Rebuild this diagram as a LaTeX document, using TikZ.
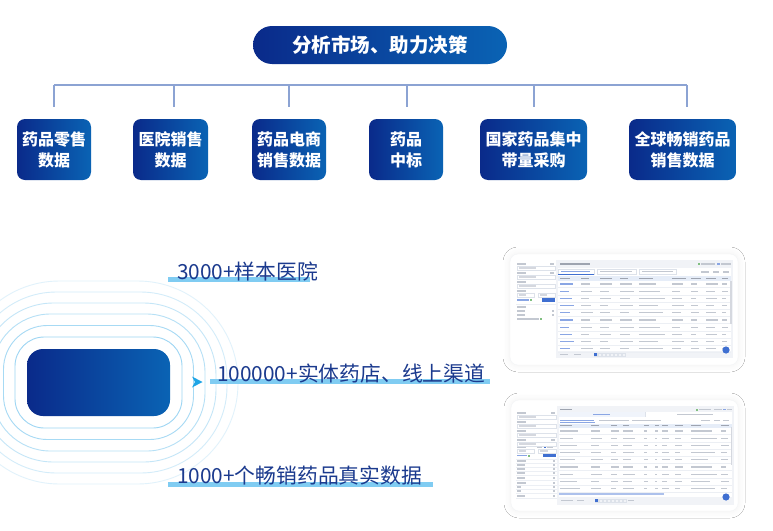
\documentclass[tikz,border=0pt]{standalone}
\usepackage{fontspec}
\newfontfamily\cjk{Noto Sans CJK SC}
\usetikzlibrary{shadows.blur}
\definecolor{navyL}{HTML}{0A2A8A}
\definecolor{navyR}{HTML}{0A63B4}
\definecolor{conncol}{HTML}{8CA3D3}
\definecolor{ringcol}{HTML}{9ED6F3}
\definecolor{barcol}{HTML}{80CCF2}
\definecolor{labcol}{HTML}{1B3A8E}
\definecolor{arrcol}{HTML}{1FA5E6}
\definecolor{cellcol}{HTML}{C3C8D1}
\definecolor{darkcell}{HTML}{9EA4B0}
\definecolor{linkcol}{HTML}{8AA6E4}
\definecolor{headcol}{HTML}{E6EDF8}
\definecolor{sepcol}{HTML}{ECEFF4}
\definecolor{btncol}{HTML}{3F6FD1}
\definecolor{framecol}{HTML}{F1F3F7}
\definecolor{boxcol}{HTML}{DDE2EA}
\newcommand\mytbar[4][cellcol]{\fill[#1] (#2,#3-0.65) rectangle ++(#4,1.3);}
\newcommand\myinput[3]{\draw[boxcol,line width=0.3pt] (#1,#2-2.2) rectangle ++(#3,4.4);\mytbar[cellcol!70]{#1+1.5}{#2}{#3*0.45}}
\begin{document}
\begin{tikzpicture}[x=1pt,y=-1pt,
 grad/.style={left color=navyL,right color=navyR,draw=none},
 pill/.style={grad,rounded corners=19pt,minimum width=254pt,minimum height=38pt,inner sep=0pt,text=white,font=\cjk\bfseries\fontsize{19.5}{22}\selectfont},
 catbox/.style={grad,rounded corners=8pt,minimum height=61pt,inner sep=0pt,align=center,text=white,font=\cjk\bfseries\fontsize{16}{21}\selectfont},
 conn/.style={draw=conncol,line width=1.2pt},
 lab/.style={anchor=base west,inner sep=0pt,text=labcol,font=\cjk\fontsize{20.8}{22}\selectfont},
 corebox/.style={grad,rounded corners=16pt,minimum width=143pt,minimum height=67pt,inner sep=0pt},
 card/.style={fill=white,rounded corners=8pt,blur shadow={shadow xshift=0pt,shadow yshift=0pt,shadow blur radius=7pt,shadow blur steps=10,shadow opacity=6}}
]
\useasboundingbox (0,0) rectangle (773,530);
\fill[white] (0,0) rectangle (773,530);

% ---------- top ----------
\node[pill] (title) at (380,45) {分析市场、助力决策};

\node[catbox,minimum width=74pt]  (b1) at (54,149.5)  {药品零售\\数据};
\node[catbox,minimum width=75pt]  (b2) at (170.5,149.5) {医院销售\\数据};
\node[catbox,minimum width=74pt]  (b3) at (289,149.5) {药品电商\\销售数据};
\node[catbox,minimum width=74pt]  (b4) at (406,149.5) {药品\\中标};
\node[catbox,minimum width=107pt] (b5) at (533.5,149.5) {国家药品集中\\带量采购};
\node[catbox,minimum width=107pt] (b6) at (682.5,149.5) {全球畅销药品\\销售数据};

\foreach \i/\x in {1/54,2/174,3/289,4/407,5/534,6/687}{
  \coordinate (h\i) at (\x,85);
  \coordinate (e\i) at (\x,107);
}
\draw[conn] (h1) -- (h6);
\foreach \i in {1,...,6}{ \draw[conn] (h\i) -- (e\i); }

% ---------- rings ----------
\begin{scope}
\clip (0,0) rectangle (773,530);
\foreach \d/\op in {12/1,23.5/0.9,35/0.75,46/0.6,57/0.45,68/0.3}{
  \pgfmathsetmacro\rr{min(14+1.27*\d,33.5+\d)}
  \draw[ringcol,opacity=\op,line width=0.9pt,rounded corners=\rr pt] (27-\d,349-\d) rectangle (170+\d,416+\d);
}
\end{scope}
\node[corebox] (core) at (98.5,382.5) {};
\fill[arrcol] (192,376.5) -- (202.5,382) -- (192,387.5) -- (195,382) -- cycle;

% ---------- labels ----------
\fill[barcol] (168,277) rectangle (310,282);
\node[lab] (l1) at (177,279) {3000+样本医院};
\fill[barcol] (210,379) rectangle (490,384);
\node[lab] (l2) at (217,381) {100000+实体药店、线上渠道};
\fill[barcol] (168,482) rectangle (433,487);
\node[lab] (l3) at (177,483) {1000+个畅销药品真实数据};

% ---------- screenshot 1 ----------
\begin{scope}[shift={(510,254)}]
\path[card] (0,0) rectangle (228,111);
\draw[sepcol!70,rounded corners=8pt,line width=0.3pt] (0,0) rectangle (228,111);
% sidebar
\foreach \y in {10,19}{\mytbar{7}{\y}{9}\mytbar{40}{\y}{4}}
\foreach \y in {28,37}{\mytbar{7}{\y}{9}}
\foreach \y in {14,23,32}{\myinput{7}{\y}{38}}
\myinput{7}{41}{17}\myinput{28}{41}{17}
\mytbar[linkcol]{7}{46}{12}
\fill[green!50!black!50] (20,45) rectangle ++(2,2);
\fill[btncol] (32,44.3) rectangle (45,48);
\draw[sepcol,line width=0.4pt] (6,50) -- (46,50);
\mytbar{7}{53}{9}\mytbar{7}{57}{8}\mytbar{7}{61}{8}\mytbar{7}{65}{22}
\fill[green!50!black!50] (30,64) rectangle ++(2,2);
\foreach \y in {57,61}{\mytbar{42}{\y}{2}}
% main panel
\fill[framecol] (46,6) rectangle (223,104);
\fill[white] (48,13.5) rectangle (221,97);
\mytbar[darkcell]{50}{10}{30}
\fill[green!50!black!50] (188,9) rectangle ++(2,2);
\mytbar{191}{10}{14}\mytbar[linkcol]{207}{10}{3}\mytbar{211}{10}{10}
\draw[boxcol,line width=0.3pt] (48,15) rectangle (84,20);
\draw[boxcol,line width=0.3pt] (87,15) rectangle (126,20);
\draw[boxcol,line width=0.3pt] (129,15) rectangle (166,20);
\mytbar[linkcol]{51}{17.5}{29}\mytbar{90}{17.5}{32}\mytbar{132}{17.5}{31}
\draw[btncol,line width=0.6pt] (48,20.6) -- (84,20.6);
\mytbar{191}{18}{8}\mytbar{203}{18}{6}\mytbar{213}{18}{6}
\fill[headcol] (48,22) rectangle (221,26.5);
\foreach \cx/\cw in {50/10,71/8,90/12,110/8,129/14,162/14,181/10,196/10,212/6}{\mytbar[darkcell]{\cx}{24.2}{\cw}}
\foreach \r in {0,...,9}{
  \pgfmathsetmacro\yy{30+7.2*\r}
  \draw[sepcol,line width=0.4pt] (48,\yy+3.6) -- (221,\yy+3.6);
  \foreach \cx/\cw [count=\i] in {50/14,71/12,90/12,110/14,129/26,162/12,181/8,196/12,212/6}{
    \pgfmathsetmacro\ww{\cw*(0.65+0.35*mod(\r*7+\i*3,5)/4)}
    \ifnum\i=1 \mytbar[linkcol]{\cx}{\yy}{\ww}\else\mytbar{\cx}{\yy}{\ww}\fi
  }
}
\fill[cellcol!70] (220,27) rectangle (221.6,70);
\mytbar{50}{100.5}{8}\mytbar{64}{100.5}{7}
\foreach \k in {0,...,7}{\draw[boxcol,line width=0.3pt] (84+\k*4,99) rectangle ++(3,3);}
\fill[btncol] (84,99) rectangle ++(3,3);
\fill[btncol] (216,96) circle (3.6);
\end{scope}

% ---------- screenshot 2 ----------
\begin{scope}[shift={(511,400)}]
\path[card] (0,0) rectangle (227,111);
\draw[sepcol!70,rounded corners=8pt,line width=0.3pt] (0,0) rectangle (227,111);
% sidebar
\foreach \y in {13,22,31,40,47}{\mytbar{6}{\y}{9}}
\mytbar{40}{13}{4}\mytbar{40}{40}{4}
\mytbar{26}{47}{5}\fill[btncol] (33,46) rectangle ++(2,2);\mytbar{36}{47}{6}
\foreach \y in {17,26,35,44}{\myinput{6}{\y}{39}}
\myinput{6}{51}{17}\myinput{27}{51}{18}
\mytbar[linkcol]{6}{55.5}{10}
\fill[green!50!black!50] (17,54.5) rectangle ++(2,2);
\fill[btncol] (32,53.8) rectangle (45,57.3);
\draw[sepcol,line width=0.4pt] (5,59) -- (46,59);
\foreach \y/\w in {61/9,65/8,69/8,73/8,78/8,83/9,87/4,91/4,96/8}{\mytbar{6}{\y}{\w}\mytbar{42}{\y}{2}
  \draw[sepcol,line width=0.3pt] (5,\y+2) -- (46,\y+2);}
% main panel
\fill[framecol] (46,6) rectangle (223,105);
\fill[white] (48,12) rectangle (221,97);
\mytbar[darkcell]{49}{9.5}{12}
\fill[green!50!black!50] (185,8.5) rectangle ++(2,2);
\mytbar{188}{9.5}{12}\mytbar{203}{9.5}{8}\mytbar[linkcol]{212}{9.5}{3}\mytbar{216}{9.5}{5}
\fill[headcol!60] (48,12) rectangle (134,17);
\draw[boxcol,line width=0.3pt] (134,12) -- (134,17);
\mytbar[linkcol]{82}{14.5}{17}\mytbar{166}{14.5}{36}
\mytbar[linkcol]{49}{20.5}{34}\mytbar{88}{20.5}{30}\mytbar{121}{20.5}{29}
\draw[linkcol,line width=0.4pt] (49,22.3) -- (84,22.3);
\mytbar{190}{20.5}{9}\mytbar{203}{20.5}{6}\mytbar{212}{20.5}{6}
\fill[headcol] (48,23.5) rectangle (221,27.5);
\foreach \cx/\cw in {49/12,80/8,100/6,112/6,133/5,144/4,151/6,164/8,180/10,210/8}{\mytbar[darkcell]{\cx}{25.5}{\cw}}
\foreach \r in {0,...,8}{
  \pgfmathsetmacro\yy{31+7.2*\r}
  \draw[sepcol,line width=0.4pt] (48,\yy+3.6) -- (221,\yy+3.6);
  \foreach \cx/\cw [count=\i] in {49/20,80/12,100/8,112/12,133/4,144/3,151/8,164/8,180/26,210/8}{
    \pgfmathsetmacro\ww{\cw*(0.65+0.35*mod(\r*7+\i*3,5)/4)}
    \mytbar{\cx}{\yy}{\ww}
  }
}
\fill[cellcol!70] (219.5,27) rectangle (221,65);
\fill[linkcol!70] (48,93.2) rectangle (153,94.8);
\mytbar{50}{100.5}{12}\mytbar{66}{100.5}{7}
\foreach \k in {0,...,7}{\draw[boxcol,line width=0.3pt] (84+\k*4,99) rectangle ++(3,3);}
\fill[btncol] (84,99) rectangle ++(3,3);
\mytbar{117}{100.5}{6}
\fill[btncol] (215,97) circle (3.6);
\end{scope}
\end{tikzpicture}
\end{document}
